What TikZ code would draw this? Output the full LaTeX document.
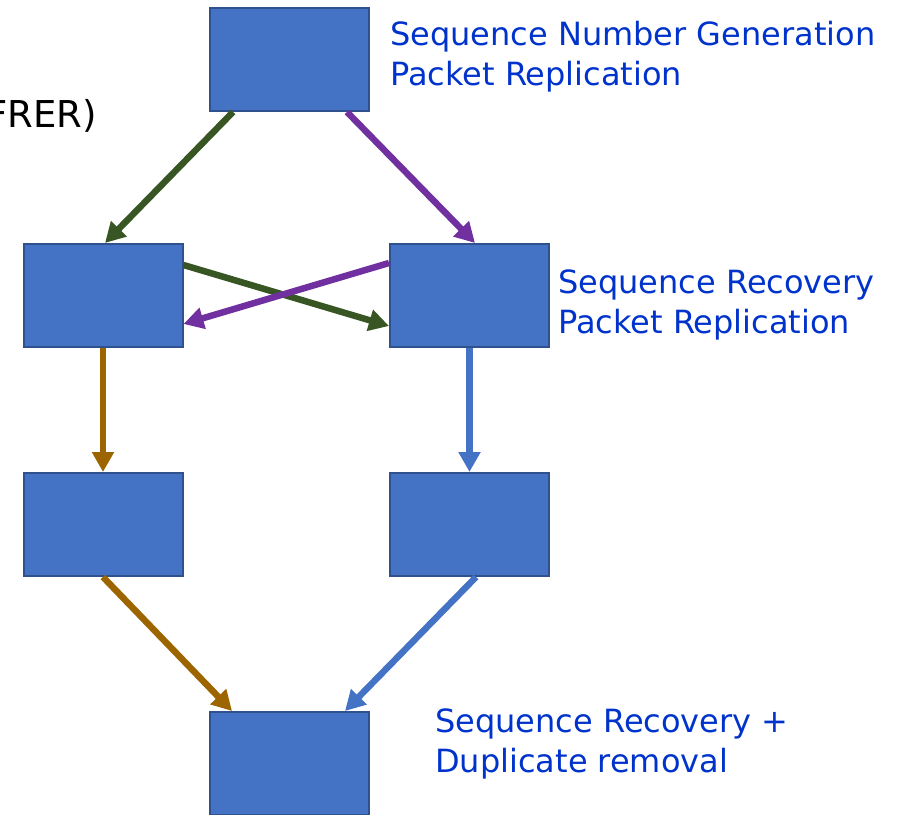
\documentclass[tikz,border=0pt]{standalone}
\usepackage{fontspec}
\setmainfont{DejaVu Sans}
\usetikzlibrary{arrows.meta}
\definecolor{boxfill}{HTML}{4472C4}
\definecolor{boxline}{HTML}{2F528F}
\definecolor{cgreen}{HTML}{375623}
\definecolor{cpurple}{HTML}{7030A0}
\definecolor{corange}{HTML}{9C6500}
\definecolor{cblue}{HTML}{4472C4}
\definecolor{ctext}{HTML}{0033CC}
\tikzset{
  blk/.style={draw=boxline, fill=boxfill, line width=2pt, minimum width=159pt, minimum height=103pt, inner sep=0pt},
  conn/.style={line width=6.5pt, -{Triangle[width=21pt,length=20pt]}},
  lbl/.style={anchor=base west, inner sep=0pt, align=left, text=ctext, font=\fontsize{32}{40}\selectfont},
}
\begin{document}
\begin{tikzpicture}[x=1pt,y=1pt]
\useasboundingbox (0,0) rectangle (897,-814);
\clip (0,0) rectangle (897,-814);
\node[blk] (T) at (289.5,-59.5) {};
\node[blk] (L1) at (103,-295.5) {};
\node[blk] (R1) at (469.5,-295.5) {};
\node[blk] (L2) at (103,-524.5) {};
\node[blk] (R2) at (469.5,-524.5) {};
\node[blk] (B) at (289.5,-763.5) {};

\node[lbl] (t1) at (390,-85) {Sequence Number Generation\\Packet Replication};
\node[lbl] (t2) at (558,-333) {Sequence Recovery\\Packet Replication};
\node[lbl] (t3) at (435,-772) {Sequence Recovery +\\Duplicate removal};
\node[anchor=base east, inner sep=0pt, font=\fontsize{37}{44}\selectfont] (t0) at (97,-127) {FRER)};

\draw[conn, cgreen] ([xshift=-56.5pt]T.south) -- ([xshift=2pt]L1.north);
\draw[conn, cpurple] ([xshift=57.5pt]T.south) -- ([xshift=5.5pt]R1.north);
\draw[conn, cgreen] ([yshift=30.5pt]L1.east) -- ([yshift=-30.5pt]R1.west);
\draw[conn, cpurple] ([yshift=32.5pt]R1.west) -- ([yshift=-28.5pt]L1.east);
\draw[conn, corange] (L1.south) -- (L2.north);
\draw[conn, cblue] (R1.south) -- (R2.north);
\draw[conn, corange] (L2.south) -- ([xshift=-57.5pt]B.north);
\draw[conn, cblue] ([xshift=6.5pt]R2.south) -- ([xshift=55.5pt]B.north);
\end{tikzpicture}
\end{document}
